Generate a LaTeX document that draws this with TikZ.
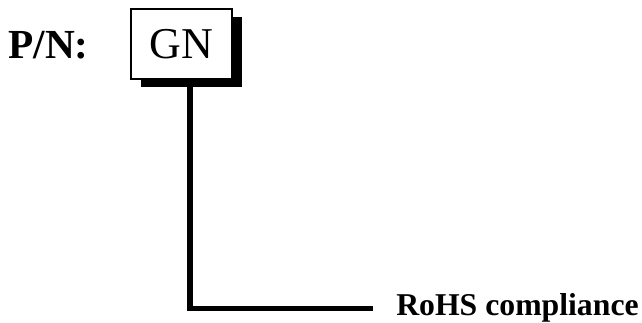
\documentclass[tikz,border=0pt]{standalone}
\usepackage{fontspec}
\setmainfont{Liberation Serif}
\usetikzlibrary{shadows, calc}
\tikzset{
  partbox/.style = {draw=black, line width=1.5pt, fill=white,
                    minimum width=75.75pt, minimum height=52.5pt,
                    inner sep=0pt, font=\fontsize{33}{37}\selectfont,
                    drop shadow={shadow xshift=7.5pt, shadow yshift=-5.8pt,
                                 fill=black, opacity=1}},
  tag/.style     = {inner sep=0pt, font=\bfseries\fontsize{31}{35}\selectfont},
  field/.style   = {inner sep=0pt, font=\bfseries\fontsize{23.8}{27}\selectfont},
  lead/.style    = {draw=black, line width=4pt},
}
\begin{document}
\begin{tikzpicture}[x=0.75pt, y=0.75pt]
\useasboundingbox (0,0) rectangle (642,323);

\node[tag, anchor=base west] (pn) at (8,264) {P/N:};
\node[partbox] (gn) at (181.5,279) {GN};
\node[field, anchor=base west] (rohs) at (396,7) {RoHS compliance};

\draw[lead] ([xshift=6.4pt]gn.south) |- ([xshift=-17.25pt]rohs.west);

\end{tikzpicture}
\end{document}
